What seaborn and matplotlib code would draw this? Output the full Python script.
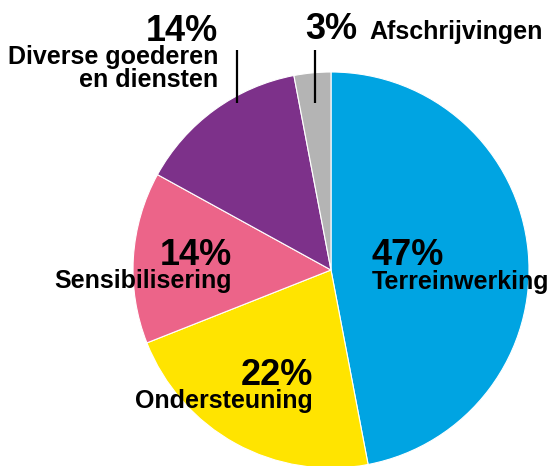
import matplotlib
matplotlib.use('Agg')
import matplotlib.pyplot as plt
import seaborn as sns

# Budget share per category (clockwise from the top)
categories = ['Terreinwerking', 'Ondersteuning', 'Sensibilisering',
              'Diverse goederen\nen diensten', 'Afschrijvingen']
shares = [47, 22, 14, 14, 3]
colours = ['#00A4E2', '#FFE400', '#EC6489', '#7D318A', '#B4B4B4']

sns.set_theme(style='white')
plt.rcParams['font.family'] = ['Liberation Sans', 'DejaVu Sans']
plt.rcParams['text.color'] = 'black'

W, H = 552, 466
fig = plt.figure(figsize=(W / 100, H / 100), dpi=100)
ax = fig.add_axes([0, 0, 1, 1])

# pie centre / radius in pixel units (y measured upwards)
ax.pie(shares, colors=colours, startangle=90, counterclock=False,
       center=(331, H - 270), radius=198,
       wedgeprops=dict(edgecolor='white', linewidth=0.8))
ax.set_xlim(0, W)
ax.set_ylim(0, H)
ax.set_aspect('equal')
ax.axis('off')

pct_size = 26
lab_size = 18

def label(x, y_pct, y_lab, i, ha, size=lab_size):
    # percentage on top, category name under it (y given from the top)
    ax.text(x, H - y_pct, f'{shares[i]}%', fontsize=pct_size, fontweight='bold',
            ha=ha, va='baseline')
    ax.text(x, H - y_lab, categories[i], fontsize=size, fontweight='bold',
            ha=ha, va='baseline', linespacing=1.0, multialignment=ha)

label(372, 265, 289, 0, 'left', size=18)
label(313, 385, 408, 1, 'right')
label(232, 265, 288, 2, 'right')

# top two get leader lines
ax.text(218, H - 41, f'{shares[3]}%', fontsize=pct_size, fontweight='bold',
        ha='right', va='baseline')
ax.text(218, H - 87, categories[3], fontsize=lab_size, fontweight='bold',
        ha='right', va='baseline', multialignment='right', linespacing=0.95)
ax.plot([237, 237], [H - 50, H - 103], color='black', lw=1.6, solid_capstyle='butt')

ax.text(305, H - 39, f'{shares[4]}%', fontsize=pct_size, fontweight='bold',
        ha='left', va='baseline')
ax.text(369, H - 39, categories[4], fontsize=lab_size, fontweight='bold',
        ha='left', va='baseline')
ax.plot([315, 315], [H - 50, H - 103], color='black', lw=1.6, solid_capstyle='butt')

fig.savefig('out.png', dpi=100, facecolor='white')
